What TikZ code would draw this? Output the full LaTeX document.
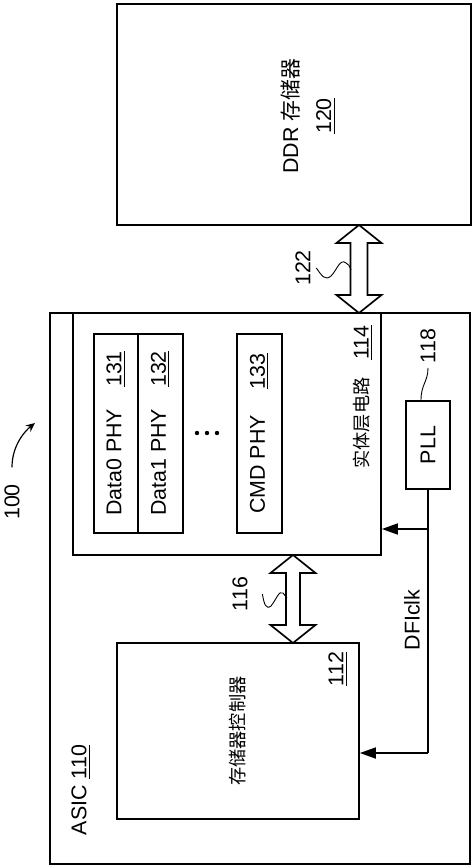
\documentclass[tikz,border=0pt]{standalone}
\usepackage{fontspec}
\setmainfont{Liberation Sans}
\newfontfamily\cjk{Noto Sans CJK SC}[Scale=0.85]
\usetikzlibrary{fit, arrows.meta}

\begin{document}
\begin{tikzpicture}[
    x=0.5pt, y=-0.5pt,
    font=\fontsize{10.7}{16.5}\selectfont,
    line width=0.85pt,
    box/.style={draw, inner sep=0pt, fit={#1}},
    txt/.style={rotate=90, inner sep=0pt, align=center},
    bus/.style={draw, fill=white, line join=miter},
    clk/.style={-{Triangle[length=8pt, width=5.5pt]}},
    leader/.style={line width=0.45pt}
]
    \useasboundingbox (0,0) rectangle (474,868);

    % ==========================================
    % BOXES
    % ==========================================
    \node[box={(117,4) (471,225)}] (ddr) {};
    \node[box={(50,313) (470,864)}] (asic) {};
    \node[box={(73,313) (381,555)}] (phy) {};
    \node[box={(94,334) (138,533)}] (data0) {};
    \node[box={(138,334) (183,533)}] (data1) {};
    \node[box={(237,334) (282,533)}] (cmd) {};
    \node[box={(406,401) (450,489)}] (pll) {};
    \node[box={(117,643) (359,819)}] (mc) {};

    % ==========================================
    % TEXTS (all turned by 90 degrees)
    % ==========================================
    \node[txt] (ddrlbl) at (308,116) {DDR {\fontsize{12.3}{16.5}\selectfont\cjk 存储器}\\ \underline{120}};
    \node[txt] at (data0.center) {Data0 PHY\hspace{11pt}\underline{131}};
    \node[txt] at (data1.center) {Data1 PHY\hspace{11pt}\underline{132}};
    \node[txt] at (cmd.center) {CMD PHY\hspace{13pt}\underline{133}};
    \node[txt] (phylbl) at (363,397) {{\cjk 实体层电路}\hspace{9pt}\underline{114}};
    \node[txt] at (pll.center) {PLL};
    \node[txt] at (mc.center) {\cjk 存储器控制器};
    \node[txt] (mclbl) at (338,669) {\underline{112}};
    \node[txt] (asiclbl) at (81,790) {ASIC \underline{110}};
    \node[txt] (l100) at (12,502) {100};
    \node[txt] (l118) at (428,346) {118};
    \node[txt] (l122) at (303,268) {122};
    \node[txt] (l116) at (240,594) {116};
    \node[txt] (dfi) at (412,620) {DFIclk};

    % dots between Data1 and CMD
    \foreach \dx in {197,207,217}
        \fill (\dx,433) circle (2.2);

    % ==========================================
    % BUS ARROWS
    % ==========================================
    \coordinate (b122) at (359,225);  % top tip
    \coordinate (b116) at (293,555);  % top tip

    \draw[bus] (b122) -- ++(22.5,18) -- ++(-14,0) -- ++(0,52) -- ++(14,0)
        -- ++(-22.5,18) -- ++(-22.5,-18) -- ++(14,0) -- ++(0,-52) -- ++(-14,0) -- cycle;
    \draw[bus] (b116) -- ++(22.5,18) -- ++(-15.5,0) -- ++(0,52) -- ++(15.5,0)
        -- ++(-22.5,18) -- ++(-22.5,-18) -- ++(15.5,0) -- ++(0,-52) -- ++(-15.5,0) -- cycle;

    % ==========================================
    % CLOCK LINES
    % ==========================================
    \coordinate (clkbr) at (428,529);
    \coordinate (clkend) at (428,753);
    \draw (pll.south) -- (clkend);
    \draw[clk] (clkend) -- (clkend -| mc.east);
    \draw[clk] (clkbr) -- (clkbr -| phy.east);

    % ==========================================
    % LEADERS
    % ==========================================
    \coordinate (s122) at (351,270);
    \coordinate (s116) at (287,598);
    \coordinate (asicref) at (35,423);

    \draw[leader] ([xshift=2.5pt]l122.south) .. controls (322,276) and (325,281) .. (331,276)
        .. controls (337,270) and (340,258) .. (346,263) .. controls (349,265) .. (s122);
    \draw[leader] ([xshift=7pt]l116.south) .. controls (264,604) and (266,610) .. (271,606)
        .. controls (276,600) and (279,590) .. (283,593) .. controls (285,595) .. (s116);
    \draw[leader] ([xshift=-3.5pt]pll.north) .. controls +(0,-16) and +(0,14) .. ([yshift=-2pt]l118.west);
    \draw[leader, line width=0.6pt, -{Stealth[length=4.5pt, width=4pt]}]
        ([yshift=8pt]l100.east) .. controls +(0,-22) and +(-10,8) .. (asicref);

\end{tikzpicture}
\end{document}
